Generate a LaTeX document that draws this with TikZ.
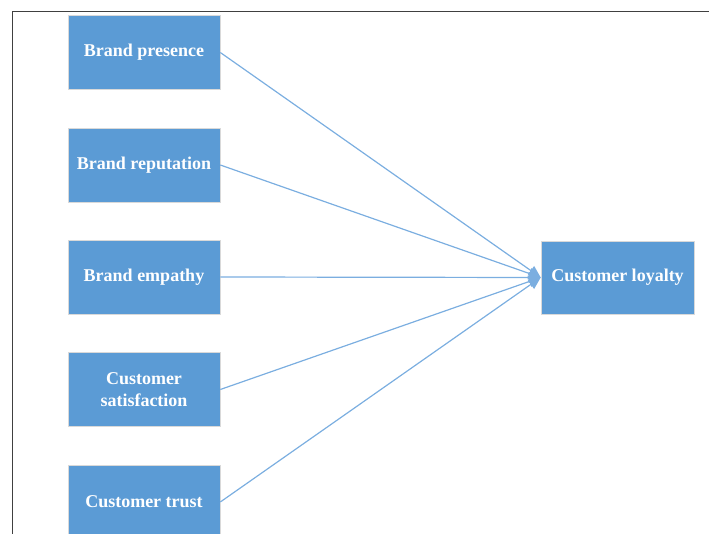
\documentclass[tikz,border=0pt]{standalone}
\usepackage{fontspec}
\setmainfont{Liberation Serif}
\usetikzlibrary{arrows.meta}
\definecolor{boxblue}{HTML}{5B9BD5}
\definecolor{lineblue}{HTML}{7BAEE0}
\definecolor{framegray}{HTML}{404040}
\tikzset{
  box/.style={draw=black!15, line width=0.6pt, fill=boxblue, text=white, font=\bfseries\fontsize{18}{21}\selectfont,
    minimum width=152pt, minimum height=74pt, inner sep=2pt, align=center, anchor=center},
  conn/.style={draw=lineblue, line width=1.2pt, -{Triangle[length=12pt,width=11pt]}},
}
\begin{document}
\begin{tikzpicture}[x=1pt,y=-1pt]
\useasboundingbox (0,0) rectangle (709,534);
\draw[framegray, line width=1.8pt] (12.5,534) -- (12.5,11.5) -- (709,11.5);
\node[box] (p) at (144,52.5) {Brand presence};
\node[box] (r) at (144,165) {Brand reputation};
\node[box] (e) at (144,277) {Brand empathy};
\node[box] (s) at (144,389.5) {Customer\\[1pt]satisfaction};
\node[box] (t) at (144,502) {Customer trust};
\node[box, minimum width=153pt, minimum height=73pt] (l) at (617.5,277.5) {Customer loyalty};
\foreach \n in {p,r,e,s,t} \draw[conn] (\n.east) -- (l.west);
\end{tikzpicture}
\end{document}
